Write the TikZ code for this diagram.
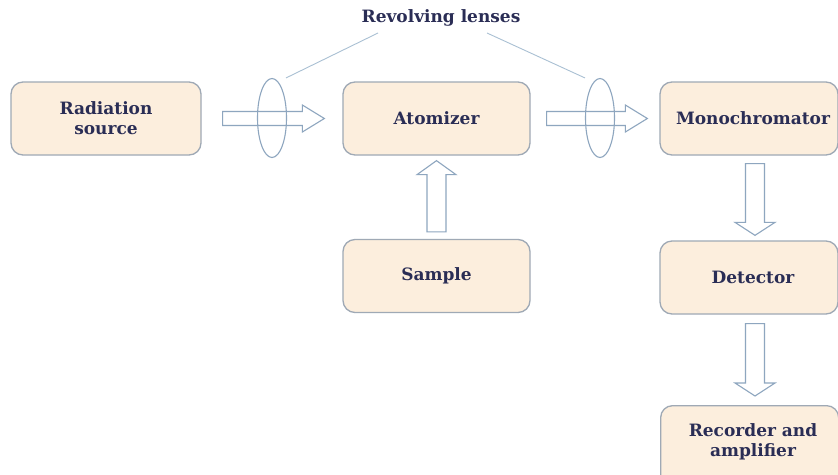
\documentclass[tikz,border=0pt]{standalone}
\usepackage{fontspec}
\setmainfont{DejaVu Serif}
\usetikzlibrary{calc,shapes.geometric}
\definecolor{boxfill}{HTML}{FCEEDD}
\definecolor{boxline}{HTML}{9FA9B5}
\definecolor{txt}{HTML}{2A2D55}
\definecolor{arrline}{HTML}{8EA6BF}
\definecolor{lensline}{HTML}{A9C0D3}
\tikzset{
  stage/.style={draw=boxline, fill=boxfill, line width=1.3pt, rounded corners=12pt,
    minimum width=187pt, minimum height=73pt, align=center, text=txt,
    font=\bfseries\fontsize{17}{20}\selectfont},
  edgebox/.style={stage, minimum width=178pt, inner sep=0pt, text width=178pt},
  blockarrow/.style={draw=arrline, fill=white, line width=1.1pt, line join=miter},
  lens/.style={draw=arrline, line width=1.1pt, ellipse, minimum width=29pt, minimum height=79pt, inner sep=0pt},
  pointer/.style={draw=lensline, line width=0.9pt},
  label/.style={text=txt, font=\bfseries\fontsize{17}{20}\selectfont, align=center},
}
% horizontal block arrow: start, tip
\newcommand\harrow[2]{%
  \path[blockarrow] let \p1=(#1), \p2=(#2) in
    (\x1,\y1-7pt) -- (\x2-22pt,\y1-7pt) -- (\x2-22pt,\y1-13.5pt) -- (\x2,\y1)
    -- (\x2-22pt,\y1+13.5pt) -- (\x2-22pt,\y1+7pt) -- (\x1,\y1+7pt) -- cycle;}
% vertical block arrow pointing down
\newcommand\varrowdown[2]{%
  \path[blockarrow] let \p1=(#1), \p2=(#2) in
    (\x1-9.5pt,\y1) -- (\x1-9.5pt,\y2+13pt) -- (\x1-20pt,\y2+13pt) -- (\x1,\y2)
    -- (\x1+20pt,\y2+13pt) -- (\x1+9.5pt,\y2+13pt) -- (\x1+9.5pt,\y1) -- cycle;}
% vertical block arrow pointing up
\newcommand\varrowup[2]{%
  \path[blockarrow] let \p1=(#1), \p2=(#2) in
    (\x1-9.5pt,\y1) -- (\x1-9.5pt,\y2-14pt) -- (\x1-19.5pt,\y2-14pt) -- (\x1,\y2)
    -- (\x1+19.5pt,\y2-14pt) -- (\x1+9.5pt,\y2-14pt) -- (\x1+9.5pt,\y1) -- cycle;}
\begin{document}
\begin{tikzpicture}[x=1pt,y=-1pt]
\useasboundingbox (0,0) rectangle (838,474);
\clip (0,0) rectangle (838,474);
\fill[white] (0,0) rectangle (838,474);

\node[stage, minimum width=190pt] (rad) at (106,118.5) {Radiation\\source};
\node[stage] (atom) at (436.5,118.5) {Atomizer};
\node[edgebox] (mono) at (749,118.5) {\hspace*{8pt}Monochromator};
\node[stage] (samp) at (436.5,276) {Sample};
\node[edgebox] (det) at (749,277.5) {\hspace*{8pt}Detector};
\node[edgebox, minimum height=90pt, anchor=north west] (rec) at (660,405) {};
\node[label] (rectext) at (753,442) {Recorder and\\amplifier};

\node[label] (title) at (441,18) {Revolving lenses};

% block arrows
\coordinate (a1s) at ($(rad.east)+(21,0)$);
\coordinate (a1e) at ($(atom.west)+(-18,0)$);
\harrow{a1s}{a1e}
\coordinate (a2s) at ($(atom.east)+(16,0)$);
\coordinate (a2e) at ($(mono.west)+(-12,0)$);
\harrow{a2s}{a2e}
\coordinate (a3s) at ($(samp.north)+(0,-7)$);
\coordinate (a3e) at ($(atom.south)+(0,5)$);
\varrowup{a3s}{a3e}
\coordinate (a4s) at ($(mono.south)+(6,8)$);
\coordinate (a4e) at ($(det.north)+(6,-5)$);
\varrowdown{a4s}{a4e}
\coordinate (a5s) at ($(det.south)+(6,9)$);
\coordinate (a5e) at ($(rec.north)+(6,-9)$);
\varrowdown{a5s}{a5e}

% lenses
\node[lens] (l1) at (272,118) {};
\node[lens] (l2) at (600,118) {};
\coordinate (p1) at ($(l1.north)+(14,0)$);
\coordinate (p2) at ($(l2.north)+(-15,0)$);
\draw[pointer] (p1) -- ($(title.center)+(-63,15)$);
\draw[pointer] (p2) -- ($(title.center)+(46,15)$);
\end{tikzpicture}
\end{document}
